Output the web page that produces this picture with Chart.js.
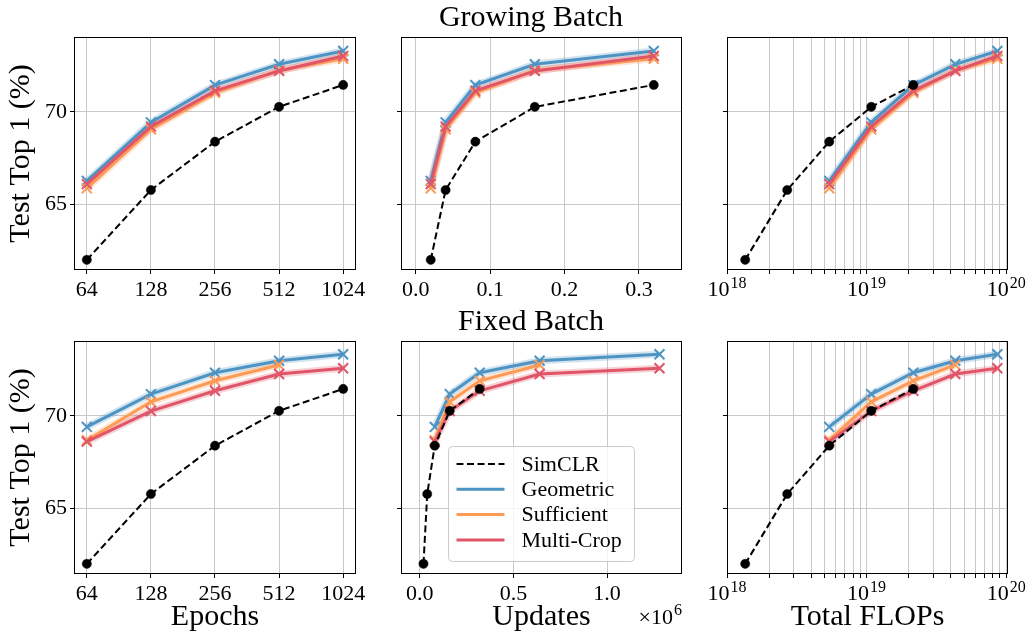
<!DOCTYPE html>
<html><head><meta charset="utf-8">
<script src="https://cdn.jsdelivr.net/npm/chart.js@4.4.1/dist/chart.umd.min.js"></script>
<style>
html,body{margin:0;padding:0;background:#fff;}
body{width:1026px;height:635px;position:relative;overflow:hidden;}
canvas{position:absolute;}
</style></head><body>
<canvas id="c1" width="380" height="312" style="left:0px;top:0px"></canvas>
<canvas id="c2" width="324" height="312" style="left:380px;top:0px"></canvas>
<canvas id="c3" width="322" height="312" style="left:704px;top:0px"></canvas>
<canvas id="c4" width="380" height="331" style="left:0px;top:304px"></canvas>
<canvas id="c5" width="324" height="331" style="left:380px;top:304px"></canvas>
<canvas id="c6" width="322" height="331" style="left:704px;top:304px"></canvas>
<script>
// ---------- data ----------
const epochs = [64, 128, 256, 512, 1024];
const updatesSimCLR = [0.02, 0.04, 0.08, 0.16, 0.32];      // x 10^6
const updatesGrowing = [0.02, 0.04, 0.08, 0.16, 0.32];     // x 10^6
const updatesFixed = [0.08, 0.16, 0.32, 0.64, 1.28];       // x 10^6
const flopsSimCLR = [1.35e18, 2.7e18, 5.4e18, 1.08e19, 2.16e19];
const flopsMethods = [5.4e18, 1.08e19, 2.16e19, 4.32e19, 8.64e19];

const simclrAcc = [61.97, 65.76, 68.38, 70.27, 71.46];
const geometricGrowing = [66.25, 69.43, 71.45, 72.58, 73.30];
const sufficientGrowing = [65.85, 69.05, 71.03, 72.25, 72.88];
const multiCropGrowing = [66.08, 69.20, 71.14, 72.22, 73.03];
const geometricFixed = [69.40, 71.18, 72.34, 72.99, 73.34];
const sufficientFixed = [68.68, 70.76, 71.90, 72.76];
const multiCropFixed = [68.60, 70.26, 71.36, 72.27, 72.58];

const yTicks = [65, 70];
const epochTicks = [64, 128, 256, 512, 1024];
const updateTicksGrowing = [0.0, 0.1, 0.2, 0.3];
const updateTicksFixed = [0.0, 0.5, 1.0];
const flopDecades = [1e18, 1e19, 1e20];
const flopExponents = [18, 19, 20];
const legendNames = ['SimCLR', 'Geometric', 'Sufficient', 'Multi-Crop'];

// ---------- styles ----------
const FONT = '"Liberation Serif", "Times New Roman", serif';
const STY = {
  'SimCLR':     {color: '#000000', width: 2, dash: [7, 3.5], point: 'circle', radius: 4.6, pbw: 0.5, order: 0},
  'Geometric':  {color: '#4d94c4', halo: 'rgba(77,148,196,0.25)', width: 3, point: 'crossRot', radius: 7, pbw: 2, order: 3},
  'Sufficient': {color: '#fd9a55', halo: 'rgba(253,154,85,0.25)', width: 3, point: 'crossRot', radius: 7, pbw: 2, order: 2},
  'Multi-Crop': {color: '#e05568', halo: 'rgba(224,85,104,0.25)', width: 3, point: 'crossRot', radius: 7, pbw: 2, order: 1}
};
const Y_MIN = 61.42, Y_MAX = 74.06;
const GRID = '#c8c8c8';

const flopGrid = [];
flopDecades.forEach((d, i) => {
  if (i < flopDecades.length - 1) { for (let m = 1; m <= 9; m++) flopGrid.push(d * m); }
  else flopGrid.push(d);
});

// draw "base" with a raised smaller exponent, centred (align 'center') or right-aligned at x
function drawPow(ctx, base, exp, x, yMid, align) {
  ctx.save();
  ctx.fillStyle = '#000';
  ctx.textBaseline = 'middle'; ctx.textAlign = 'left';
  ctx.font = '22px ' + FONT;
  const wb = ctx.measureText(base).width;
  ctx.font = '16px ' + FONT;
  const we = ctx.measureText(exp).width;
  const total = wb + we + 1;
  const x0 = align === 'right' ? x - total : x - total / 2;
  ctx.font = '22px ' + FONT;
  ctx.fillText(base, x0, yMid);
  ctx.font = '16px ' + FONT;
  ctx.fillText(exp, x0 + wb + 1, yMid - 7);
  ctx.restore();
}

// ---------- plugins ----------
const framePlugin = {
  id: 'frame',
  afterDraw(chart) {
    const {ctx, chartArea: a} = chart;
    ctx.save();
    ctx.strokeStyle = '#000'; ctx.lineWidth = 1;
    ctx.strokeRect(a.left + 0.5, a.top + 0.5, a.right - a.left - 1, a.bottom - a.top - 1);
    ctx.restore();
  }
};
const powLabelPlugin = {
  id: 'powLabels',
  afterDraw(chart) {
    const {ctx, chartArea: a} = chart;
    const sx = chart.scales.x;
    flopDecades.forEach((d, i) => {
      drawPow(ctx, '10', String(flopExponents[i]), sx.getPixelForValue(d), a.bottom + 20.5, 'center');
    });
  }
};
const legendPlugin = {
  id: 'boxLegend',
  afterDraw(chart) {
    const {ctx, chartArea: a} = chart;
    const x0 = a.left + 47.5, w = 186, h = 115;
    const y0 = a.bottom - 12.5 - h;
    ctx.save();
    ctx.beginPath();
    ctx.roundRect(x0, y0, w, h, 4);
    ctx.fillStyle = 'rgba(255,255,255,0.8)'; ctx.fill();
    ctx.strokeStyle = '#cccccc'; ctx.lineWidth = 1; ctx.stroke();
    legendNames.forEach((name, i) => {
      const st = STY[name];
      const cy = y0 + 17.5 + i * 25.3;
      ctx.beginPath();
      ctx.setLineDash(st.dash || []);
      ctx.strokeStyle = st.color; ctx.lineWidth = st.width;
      ctx.moveTo(x0 + 8, cy); ctx.lineTo(x0 + 56, cy); ctx.stroke();
      ctx.setLineDash([]);
      ctx.fillStyle = '#000';
      ctx.font = '22px ' + FONT;
      ctx.textAlign = 'left'; ctx.textBaseline = 'middle';
      ctx.fillText(name, x0 + 73, cy + 1);
    });
    ctx.restore();
  }
};
const offsetPlugin = {
  id: 'offsetText',
  afterDraw(chart) {
    const {ctx, chartArea: a} = chart;
    drawPow(ctx, '\u00d710', '6', a.right, a.bottom + 44, 'right');
  }
};

// ---------- builder ----------
function makeChart(id, p) {
  const datasets = [];
  p.series.forEach(s => {
    const st = STY[s.name];
    const data = s.ys.map((y, i) => ({x: s.xs[i], y: y}));
    if (st.halo) {
      datasets.push({label: s.name + ' band', data, borderColor: st.halo, borderWidth: 7,
        pointRadius: 0, fill: false, order: 10 + st.order});
    }
    datasets.push({label: s.name, data, borderColor: st.color, backgroundColor: st.color,
      borderWidth: st.width, borderDash: st.dash || [], pointStyle: st.point, pointRadius: st.radius,
      pointBorderWidth: st.pbw, pointBackgroundColor: st.color, pointBorderColor: st.color,
      fill: false, order: st.order});
  });
  const plugins = [framePlugin];
  if (p.powLabels) plugins.push(powLabelPlugin);
  if (p.legend) plugins.push(legendPlugin);
  if (p.offsetText) plugins.push(offsetPlugin);
  const gridOpts = {color: GRID, lineWidth: 1, tickColor: '#000', tickLength: 4, drawTicks: true};
  return new Chart(document.getElementById(id), {
    type: 'line',
    data: {datasets},
    options: {
      responsive: false, animation: false, events: [],
      layout: {padding: {top: p.title ? 0 : 37, right: p.padRight, left: 0, bottom: 0}},
      plugins: {
        legend: {display: false}, tooltip: {enabled: false},
        title: {display: !!p.title, text: p.title || '', color: '#000',
          font: {family: FONT, size: 30, weight: 'normal', lineHeight: 1.2}, padding: {top: 0, bottom: 1}}
      },
      scales: {
        x: {
          type: p.xType, min: p.xMin, max: p.xMax, position: 'bottom',
          afterBuildTicks: sc => { sc.ticks = p.xTickVals.map(v => ({value: v})); },
          afterFit: sc => { sc.height = p.xHeight; sc.paddingLeft = 0; sc.paddingRight = 0; },
          ticks: {autoSkip: false, maxRotation: 0, minRotation: 0, padding: 3, color: '#000',
            font: {family: FONT, size: 22}, callback: p.xFmt},
          grid: gridOpts,
          border: {display: false},
          title: {display: !!p.xTitle, text: p.xTitle || '', color: '#000',
            font: {family: FONT, size: 30, lineHeight: 1.2}, padding: {top: 0, bottom: 0}}
        },
        y: {
          type: 'linear', min: Y_MIN, max: Y_MAX,
          afterBuildTicks: sc => { sc.ticks = yTicks.map(v => ({value: v})); },
          afterFit: sc => { sc.width = p.yWidth; sc.paddingTop = 0; sc.paddingBottom = 0; },
          ticks: {display: p.yLabels, padding: 3, color: '#000', font: {family: FONT, size: 22},
            callback: v => String(v)},
          grid: gridOpts,
          border: {display: false},
          title: {display: p.yLabels, text: 'Test Top 1 (%)', color: '#000',
            font: {family: FONT, size: 30, lineHeight: 1.2}, padding: {top: 3, bottom: 0}}
        }
      }
    },
    plugins
  });
}

const epochFmt = v => epochTicks.includes(v) ? String(v) : '';
const updFmt = v => Number(v).toFixed(1);
const blankFmt = () => '';
const epochMin = epochTicks[0] / Math.pow(2, 0.2), epochMax = epochTicks[epochTicks.length - 1] * Math.pow(2, 0.2);

const growing = [
  {name: 'Geometric', ys: geometricGrowing},
  {name: 'Sufficient', ys: sufficientGrowing},
  {name: 'Multi-Crop', ys: multiCropGrowing}
];
const fixed = [
  {name: 'Geometric', ys: geometricFixed},
  {name: 'Sufficient', ys: sufficientFixed},
  {name: 'Multi-Crop', ys: multiCropFixed}
];

// Row 1: Growing batch
makeChart('c1', {xType: 'logarithmic', xMin: epochMin, xMax: epochMax, xTickVals: epochTicks, xFmt: epochFmt,
  yWidth: 74, padRight: 24, xHeight: 42, yLabels: true,
  series: [{name: 'SimCLR', xs: epochs, ys: simclrAcc}].concat(growing.map(s => ({name: s.name, xs: epochs, ys: s.ys})))});
makeChart('c2', {xType: 'linear', xMin: -0.02, xMax: 0.358, xTickVals: updateTicksGrowing, xFmt: updFmt,
  yWidth: 21, padRight: 22, xHeight: 42, yLabels: false, title: 'Growing Batch',
  series: [{name: 'SimCLR', xs: updatesSimCLR, ys: simclrAcc}].concat(growing.map(s => ({name: s.name, xs: updatesGrowing, ys: s.ys})))});
makeChart('c3', {xType: 'logarithmic', xMin: 1e18, xMax: 1.03e20, xTickVals: flopGrid, xFmt: blankFmt,
  yWidth: 23, padRight: 18, xHeight: 42, yLabels: false, powLabels: true,
  series: [{name: 'SimCLR', xs: flopsSimCLR, ys: simclrAcc}].concat(growing.map(s => ({name: s.name, xs: flopsMethods, ys: s.ys})))});

// Row 2: Fixed batch
makeChart('c4', {xType: 'logarithmic', xMin: epochMin, xMax: epochMax, xTickVals: epochTicks, xFmt: epochFmt,
  yWidth: 74, padRight: 24, xHeight: 61, yLabels: true, xTitle: 'Epochs',
  series: [{name: 'SimCLR', xs: epochs, ys: simclrAcc}].concat(fixed.map(s => ({name: s.name, xs: epochs, ys: s.ys})))});
makeChart('c5', {xType: 'linear', xMin: -0.1, xMax: 1.4, xTickVals: updateTicksFixed, xFmt: updFmt,
  yWidth: 21, padRight: 22, xHeight: 61, yLabels: false, title: 'Fixed Batch', xTitle: 'Updates',
  legend: true, offsetText: true,
  series: [{name: 'SimCLR', xs: updatesSimCLR, ys: simclrAcc}].concat(fixed.map(s => ({name: s.name, xs: updatesFixed, ys: s.ys})))});
makeChart('c6', {xType: 'logarithmic', xMin: 1e18, xMax: 1.03e20, xTickVals: flopGrid, xFmt: blankFmt,
  yWidth: 23, padRight: 18, xHeight: 61, yLabels: false, xTitle: 'Total FLOPs', powLabels: true,
  series: [{name: 'SimCLR', xs: flopsSimCLR, ys: simclrAcc}].concat(fixed.map(s => ({name: s.name, xs: flopsMethods, ys: s.ys})))});
</script>
</body></html>
